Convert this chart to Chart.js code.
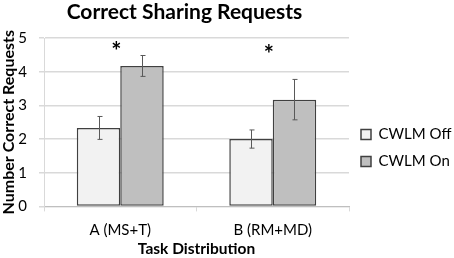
<!DOCTYPE html>
<html>
<head>
<meta charset="utf-8">
<script src="https://cdn.jsdelivr.net/npm/chart.js@4/dist/chart.umd.min.js"></script>
<style>
  html, body { margin: 0; padding: 0; background: #fff; }
  #wrap { width: 454px; height: 258px; }
</style>
</head>
<body>
<div id="wrap"><canvas id="chart"></canvas></div>
<script>
// values
const categories = ['A (MS+T)', 'B (RM+MD)'];
const seriesNames = ['CWLM Off', 'CWLM On'];
const offValues = [2.33, 2.0];
const onValues = [4.17, 3.17];
const offErrors = [0.34, 0.27];
const onErrors = [0.31, 0.6];
const starLevels = [4.73, 4.63]; // where the "*" sits over each group
const yTicks = [0, 1, 2, 3, 4, 5];

const fontName = 'Lato, "Open Sans", sans-serif';

// draws error bars, significance stars and the title
const extras = {
  id: 'extras',
  afterDatasetsDraw(chart) {
    const ctx = chart.ctx;
    const y = chart.scales.y;
    const errs = [offErrors, onErrors];
    ctx.save();
    ctx.strokeStyle = '#595959';
    ctx.lineWidth = 1;
    chart.data.datasets.forEach((ds, i) => {
      chart.getDatasetMeta(i).data.forEach((bar, j) => {
        const top = y.getPixelForValue(ds.data[j] + errs[i][j]);
        const bot = y.getPixelForValue(ds.data[j] - errs[i][j]);
        const x = Math.round(bar.x) + 0.5;
        ctx.beginPath();
        ctx.moveTo(x, top); ctx.lineTo(x, bot);
        ctx.moveTo(x - 2, top); ctx.lineTo(x + 3, top);
        ctx.moveTo(x - 2, bot); ctx.lineTo(x + 3, bot);
        ctx.stroke();
      });
    });
    // stars
    ctx.fillStyle = '#000';
    ctx.font = 'bold 24px ' + fontName;
    ctx.textAlign = 'center';
    ctx.textBaseline = 'middle';
    categories.forEach((c, j) => {
      const x = chart.scales.x.getPixelForValue(j) - 4;
      ctx.fillText('*', x, y.getPixelForValue(starLevels[j]) + 5);
    });
    // title, centred over the part left of the legend
    ctx.font = 'bold 21px ' + fontName;
    ctx.textBaseline = 'middle';
    ctx.fillText('Correct Sharing Requests', chart.legend.left / 2 + 10, 12);
    ctx.restore();
  }
};

new Chart(document.getElementById('chart'), {
  type: 'bar',
  data: {
    labels: categories,
    datasets: [
      {
        label: seriesNames[0],
        data: offValues,
        backgroundColor: '#f2f2f2',
        borderColor: '#404040',
        borderWidth: 1.5,
        borderSkipped: false
      },
      {
        label: seriesNames[1],
        data: onValues,
        backgroundColor: '#bfbfbf',
        borderColor: '#404040',
        borderWidth: 1.5,
        borderSkipped: false
      }
    ]
  },
  options: {
    responsive: true,
    maintainAspectRatio: false,
    animation: false,
    layout: { padding: { top: 38, right: 0, left: 0, bottom: 0 } },
    datasets: { bar: { categoryPercentage: 0.57, barPercentage: 1 } },
    plugins: {
      legend: {
        position: 'right',
        maxWidth: 105,
        labels: {
          boxWidth: 10,
          boxHeight: 10,
          padding: 12,
          color: '#000',
          font: { family: fontName, size: 15 }
        }
      },
      tooltip: { enabled: false },
      title: { display: false }
    },
    scales: {
      x: {
        grid: {
          offset: true,
          drawOnChartArea: false,
          drawTicks: true,
          tickLength: 5,
          color: '#d9d9d9'
        },
        border: { color: '#bfbfbf' },
        ticks: { color: '#000', font: { family: fontName, size: 15 }, padding: 10 },
        title: {
          display: true,
          text: 'Task Distribution',
          color: '#000',
          font: { family: fontName, size: 15.5, weight: 'bold' },
          padding: { top: -10, bottom: 0 }
        }
      },
      y: {
        min: 0,
        max: 5,
        afterBuildTicks(axis) { axis.ticks = yTicks.map(v => ({ value: v })); },
        afterFit(axis) { axis.width = 44; },
        grid: { color: '#d9d9d9', tickLength: 5, lineWidth: 1.5 },
        border: { color: '#d9d9d9' },
        ticks: { color: '#000', font: { family: fontName, size: 15 }, padding: 12 },
        title: {
          display: true,
          text: 'Number Correct Requests',
          color: '#000',
          font: { family: fontName, size: 16, weight: 'bold' },
          padding: { top: -1, bottom: 0 }
        }
      }
    }
  },
  plugins: [extras]
});
</script>
</body>
</html>
